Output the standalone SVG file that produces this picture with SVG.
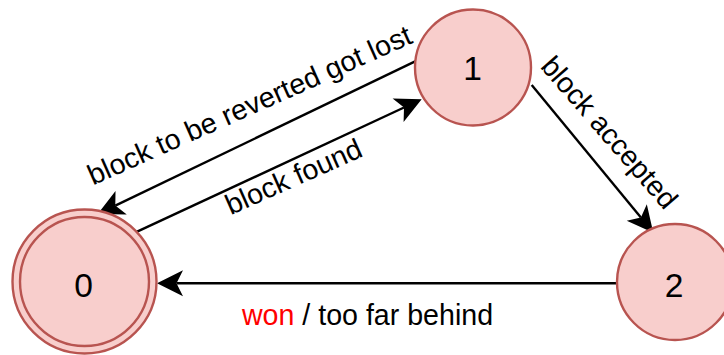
<svg xmlns="http://www.w3.org/2000/svg" width="724" height="355" viewBox="0 0 724 355">
  <style>
    .state { fill: #f8cecc; stroke: #b85450; stroke-width: 2.4; }
    .num { font-family: "Liberation Sans", Arial, sans-serif; font-size: 33.6px; fill: #000; text-anchor: middle; }
    .lbl { font-family: "Liberation Sans", Arial, sans-serif; font-size: 28.6px; fill: #000; text-anchor: middle; }
    .edge { fill: none; stroke: #000; stroke-width: 2.4; marker-end: url(#arrow); }
  </style>
  <defs>
    <!-- classic arrowhead; the line stops at the notch, the tip reaches 19.5 further -->
    <marker id="arrow" markerUnits="userSpaceOnUse" orient="auto" refX="0" refY="0" markerWidth="40" markerHeight="40" overflow="visible">
      <path d="M19.5,0 L-6.5,-13 L0,0 L-6.5,13 Z" fill="#000" stroke="none"/>
    </marker>
  </defs>

  <g id="connectors">
    <!-- 1 -> 0 : block to be reverted got lost -->
    <line class="edge" x1="416.7" y1="60.7" x2="115.3" y2="205.6"/>
    <!-- 0 -> 1 : block found -->
    <line class="edge" x1="135" y1="232.7" x2="404.0" y2="107.5"/>
    <!-- 1 -> 2 : block accepted -->
    <line class="edge" x1="531.7" y1="85" x2="640.9" y2="217.6"/>
    <!-- 2 -> 0 : won / too far behind -->
    <line class="edge" x1="617" y1="283.3" x2="176.5" y2="283.3"/>

    <text class="lbl" transform="translate(253.5,114) rotate(-24)">block to be reverted got lost</text>
    <text class="lbl" transform="translate(297.5,185.5) rotate(-24)">block found</text>
    <text class="lbl" transform="translate(602,139) rotate(49)">block accepted</text>
    <text class="lbl" x="367.5" y="325"><tspan fill="#ff0000">won</tspan> / too far behind</text>
  </g>

  <g id="state-0">
    <circle class="state" cx="84.5" cy="281.5" r="72"/>
    <circle class="state" cx="84.5" cy="281.5" r="64.5"/>
    <text class="num" x="83.5" y="297">0</text>
  </g>

  <g id="state-1">
    <circle class="state" cx="473" cy="67.5" r="58"/>
    <text class="num" x="472.5" y="80">1</text>
  </g>

  <g id="state-2">
    <circle class="state" cx="675" cy="282" r="58"/>
    <text class="num" x="674" y="297">2</text>
  </g>
</svg>
